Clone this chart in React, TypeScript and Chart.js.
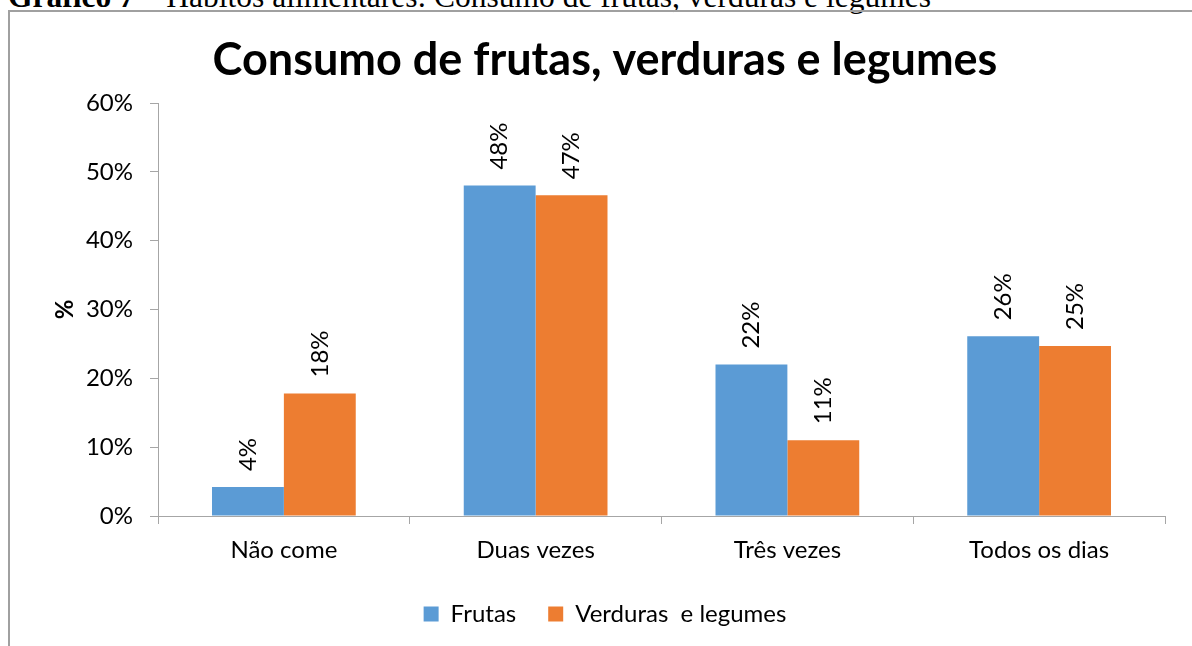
import React, { useEffect, useRef } from "react";
import { Chart, registerables } from "chart.js";

Chart.register(...registerables);

const categories = ["Não come", "Duas vezes", "Três vezes", "Todos os dias"];
const frutas = [4.2, 48.0, 22.0, 26.1];
const verduras = [17.8, 46.6, 11.0, 24.7];
const seriesNames = ["Frutas", "Verduras  e legumes"];
const yTicks = [0, 10, 20, 30, 40, 50, 60];
const chartTitle = "Consumo de frutas, verduras e legumes";
const captionBold = "Gráfico 7";
const captionRest = " – Hábitos alimentares: Consumo de frutas, verduras e legumes";

const FONT = "Lato, 'Open Sans', sans-serif";
const AXIS_GRAY = "#a6a6a6";

const valueLabels = {
  id: "valueLabels",
  afterDatasetsDraw(chart: any) {
    const ctx = chart.ctx;
    ctx.save();
    ctx.font = `24px ${FONT}`;
    ctx.fillStyle = "#000";
    ctx.textAlign = "left";
    ctx.textBaseline = "middle";
    chart.data.datasets.forEach((ds: any, di: number) => {
      const meta = chart.getDatasetMeta(di);
      meta.data.forEach((el: any, i: number) => {
        const v = ds.data[i];
        ctx.save();
        ctx.translate(el.x, el.y - 16);
        ctx.rotate(-Math.PI / 2);
        ctx.fillText(`${Math.round(v)}%`, 0, 0);
        ctx.restore();
      });
    });
    ctx.restore();
  },
};

export default function App() {
  const ref = useRef<HTMLCanvasElement>(null);
  useEffect(() => {
    if (!ref.current) return;
    const chart = new Chart(ref.current, {
      type: "bar",
      data: {
        labels: categories,
        datasets: [
          { label: seriesNames[0], data: frutas, backgroundColor: "#5B9BD5", borderWidth: 0, categoryPercentage: 0.571, barPercentage: 1 },
          { label: seriesNames[1], data: verduras, backgroundColor: "#ED7D31", borderWidth: 0, categoryPercentage: 0.571, barPercentage: 1 },
        ],
      },
      options: {
        responsive: false,
        animation: false,
        devicePixelRatio: 1,
        layout: { padding: { left: 45, right: 27, top: 0, bottom: 10 } },
        plugins: {
          title: {
            display: true,
            text: chartTitle,
            color: "#000",
            font: { family: FONT, size: 45, weight: "bold" },
            padding: { top: 33, bottom: 16 },
          },
          legend: {
            position: "bottom",
            labels: {
              color: "#000",
              font: { family: FONT, size: 24 },
              boxWidth: 15,
              boxHeight: 15,
              padding: 32,
            },
          },
          tooltip: { enabled: false },
        },
        scales: {
          x: {
            grid: {
              offset: true,
              drawOnChartArea: false,
              drawTicks: true,
              tickLength: 8,
              color: AXIS_GRAY,
            },
            border: { color: AXIS_GRAY, width: 1 },
            ticks: { color: "#000", font: { family: FONT, size: 24 }, padding: 12 },
            afterFit: (s: any) => { s.height = 54; },
          } as any,
          y: {
            min: 0,
            max: 60,
            afterBuildTicks: (s: any) => { s.ticks = yTicks.map((v) => ({ value: v })); },
            grid: { drawOnChartArea: false, tickLength: 8, color: AXIS_GRAY },
            border: { color: AXIS_GRAY, width: 1 },
            ticks: {
              color: "#000",
              font: { family: FONT, size: 24 },
              padding: 17,
              callback: (v: any) => `${v}%`,
            },
            title: {
              display: true,
              text: "%",
              color: "#000",
              font: { family: FONT, size: 24, weight: "bold" },
              padding: { top: 6, bottom: 0 },
            },
            afterFit: (s: any) => { s.width = 113; },
          },
        },
      },
      plugins: [valueLabels],
    });
    return () => chart.destroy();
  }, []);

  return (
    <div style={{ position: "absolute", left: 0, top: 0, width: 1192, height: 646, overflow: "hidden", background: "#fff" }}>
      <div
        style={{
          position: "absolute",
          left: 8,
          top: -21,
          fontFamily: "'Liberation Serif', 'Times New Roman', serif",
          fontSize: 31.5,
          lineHeight: "36px",
          whiteSpace: "nowrap",
          color: "#000",
        }}
      >
        <b>{captionBold}</b>
        {captionRest}
      </div>
      <div
        style={{
          position: "absolute",
          left: 8,
          top: 10,
          width: 1300,
          height: 800,
          borderLeft: "2px solid #a0a0a0",
          borderTop: "2px solid #a0a0a0",
        }}
      />
      <canvas ref={ref} width={1192} height={646} style={{ position: "absolute", left: 0, top: 0 }} />
    </div>
  );
}
